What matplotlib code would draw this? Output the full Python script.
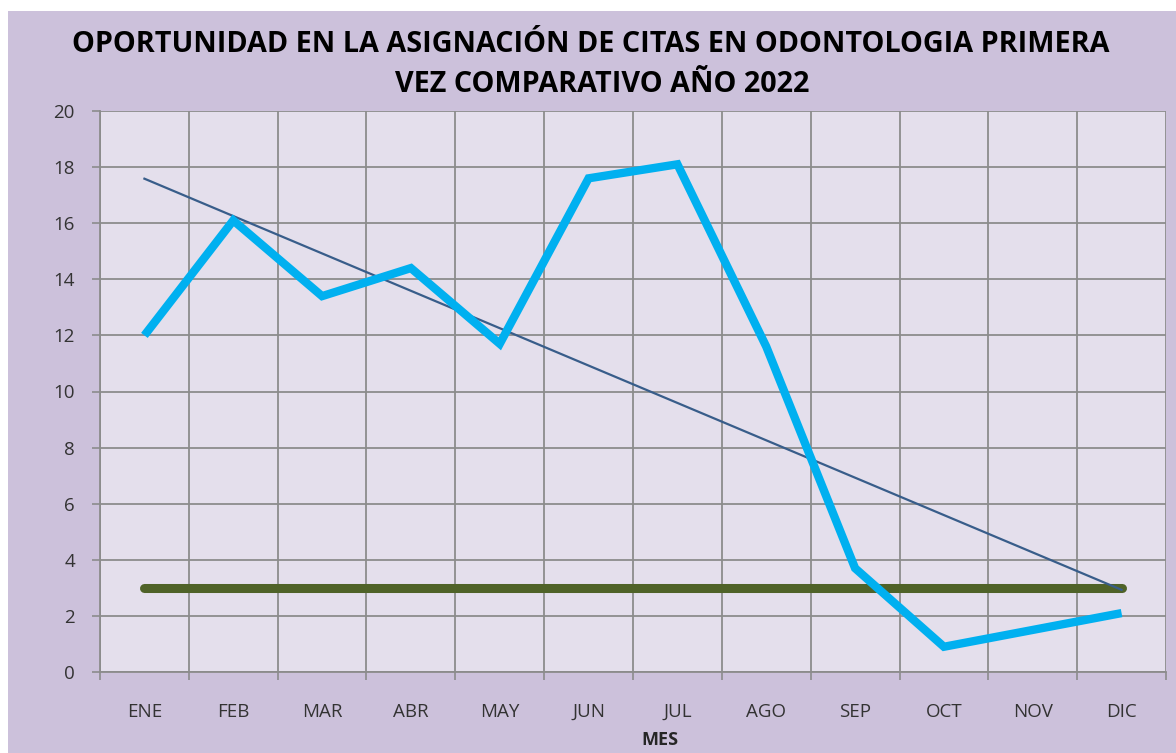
import numpy as np
import matplotlib
matplotlib.use("Agg")
import matplotlib.pyplot as plt
from matplotlib.patches import Rectangle

meses = ['ENE', 'FEB', 'MAR', 'ABR', 'MAY', 'JUN', 'JUL', 'AGO', 'SEP', 'OCT', 'NOV', 'DIC']
oportunidad = [12.0, 16.1, 13.4, 14.4, 11.7, 17.6, 18.1, 11.6, 3.7, 0.9, 1.5, 2.1]
meta = [3, 3, 3, 3, 3, 3, 3, 3, 3, 3, 3, 3]

plt.rcParams['font.family'] = ['Open Sans', 'DejaVu Sans']

fig = plt.figure(figsize=(11.76, 7.53), dpi=100, facecolor='white')
# lavender chart area
fig.patches.append(Rectangle((8 / 1176, 0), 1, 1 - 11 / 753, transform=fig.transFigure,
                             facecolor='#CCC1DB', edgecolor='none', zorder=-5))

ax = fig.add_axes([100 / 1176, 1 - 672 / 753, 1066 / 1176, 561 / 753])
ax.set_facecolor('#E4DFEC')

x = np.arange(1, len(meses) + 1)

# linear trendline (Excel style)
m, b = np.polyfit(x, oportunidad, 1)
ax.plot(x, m * x + b, color='#385D8A', lw=1.6, zorder=4)
ax.plot(x, meta, color='#4F6228', lw=6.5, solid_capstyle='round', zorder=3)
ax.plot(x, oportunidad, color='#00B0F0', lw=6, solid_capstyle='butt', solid_joinstyle='miter', zorder=5)

ax.set_xlim(0.5, len(meses) + 0.5)
ax.set_ylim(0, 20)
ax.set_yticks(range(0, 21, 2))
ax.set_xticks(np.arange(0.5, len(meses) + 1, 1))
ax.set_xticklabels([])
ax.set_xticks(x, minor=True)
ax.set_xticklabels(meses, minor=True)
ax.tick_params(axis='x', which='minor', length=0, pad=22, labelsize=13.5, labelcolor='#333333')
ax.tick_params(axis='x', which='major', length=6, width=1.2, color='#8C8C8C')
ax.tick_params(axis='y', length=6, width=1.2, color='#8C8C8C', labelsize=13.5, labelcolor='#333333', pad=12)

ax.grid(True, which='major', color='#8C8C8C', lw=1.3)
for s in ['top', 'right']:
    ax.spines[s].set_visible(False)
for s in ['left', 'bottom']:
    ax.spines[s].set_color('#8C8C8C')
    ax.spines[s].set_linewidth(1.3)

fig.text(0.502, 1 - 44 / 753, 'OPORTUNIDAD EN LA ASIGNACIÓN DE CITAS EN ODONTOLOGIA PRIMERA',
         ha='center', va='center', fontsize=20.7, fontweight='bold', color='black')
fig.text(0.512, 1 - 85 / 753, 'VEZ COMPARATIVO AÑO 2022',
         ha='center', va='center', fontsize=20.7, fontweight='bold', color='black')
fig.text(660 / 1176, 1 - 740 / 753, 'MES', ha='center', va='center', fontsize=13,
         fontweight='bold', color='#262626')

fig.savefig('out.png', dpi=100, facecolor=fig.get_facecolor())
